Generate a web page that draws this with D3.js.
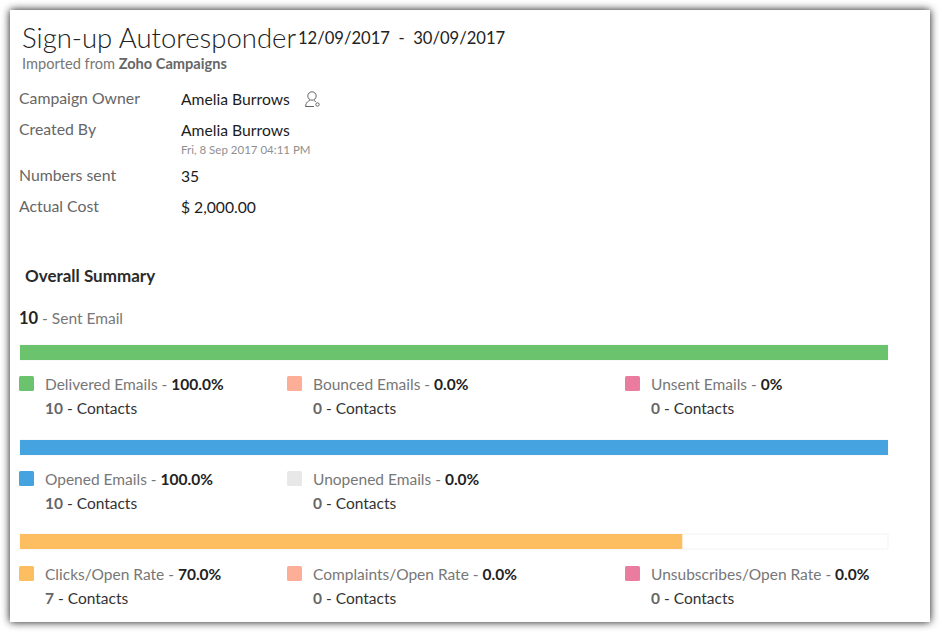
<!DOCTYPE html>
<html>
<head>
<meta charset="utf-8">
<script src="https://cdn.jsdelivr.net/npm/d3@7"></script>
<style>
    html, body { margin: 0; padding: 0; background: #fff; }
    svg { display: block; }
    text { font-family: Lato, "Open Sans", sans-serif; white-space: pre; }
</style>
</head>
<body>
<div id="visualization"></div>
<script>
// header details
const infoLabels = ["Campaign Owner", "Created By", "Numbers sent", "Actual Cost"];
const infoValues = ["Amelia Burrows", "Amelia Burrows", "35", "$ 2,000.00"];

// one row per bar
const legendNames = [
    ["Delivered Emails", "Bounced Emails", "Unsent Emails"],
    ["Opened Emails", "Unopened Emails"],
    ["Clicks/Open Rate", "Complaints/Open Rate", "Unsubscribes/Open Rate"]
];
const legendPercents = [
    ["100.0%", "0.0%", "0%"],
    ["100.0%", "0.0%"],
    ["70.0%", "0.0%", "0.0%"]
];
const legendContacts = [
    [10, 0, 0],
    [10, 0],
    [7, 0, 0]
];
const legendColors = [
    ["#6bc46d", "#fdae97", "#e97c9f"],
    ["#45a4df", "#e8e8e8"],
    ["#fdbe62", "#fdae97", "#e97c9f"]
];
// filled share of each bar as drawn, in percent of the track
const barFill = [100, 100, 76.3];

const width = 940;
const height = 632;

const svg = d3.select("#visualization").append("svg")
    .attr("width", width)
    .attr("height", height)
    .attr("viewBox", `0 0 ${width} ${height}`);

const shadow = svg.append("defs").append("filter")
    .attr("id", "shadow")
    .attr("x", "-3%").attr("y", "-3%")
    .attr("width", "106%").attr("height", "106%");
shadow.append("feDropShadow")
    .attr("dx", 0).attr("dy", 0)
    .attr("stdDeviation", 4)
    .attr("flood-color", "#000")
    .attr("flood-opacity", 0.95);

svg.append("rect")
    .attr("x", 10).attr("y", 10)
    .attr("width", 920).attr("height", 612)
    .attr("fill", "#fff")
    .attr("filter", "url(#shadow)");

function label(x, y, str, size, color, weight) {
    return svg.append("text")
        .attr("x", x).attr("y", y)
        .attr("font-size", size)
        .attr("fill", color)
        .attr("font-weight", weight || 400)
        .text(str);
}

// title block
label(22, 48, "Sign-up Autoresponder", 27.5, "#222", 300);
label(298, 44, "12/09/2017  -  30/09/2017", 16.6, "#222");
const sub = label(22, 69, "Imported from ", 14.6, "#777");
sub.append("tspan").attr("font-weight", 700).attr("fill", "#666").text("Zoho Campaigns");

// info rows
const infoRows = [103.5, 134.5, 180.5, 211.5];
infoLabels.forEach((d, i) => {
    label(19, infoRows[i], d, 15.8, "#666");
    label(181, infoRows[i] + 1, infoValues[i], 15.7, "#1c1c1c");
});
label(181, 154, "Fri, 8 Sep 2017 04:11 PM", 11.5, "#8f8f8f");

// owner icon
const icon = svg.append("g")
    .attr("transform", "translate(305,91)")
    .attr("fill", "none")
    .attr("stroke", "#555")
    .attr("stroke-width", 0.9);
icon.append("circle").attr("cx", 7).attr("cy", 5).attr("r", 4.2);
icon.append("path").attr("d", "M0.5 15.5 C1 11 3.5 10 5 9.5 M9 9.5 C10 10 10.5 10.5 11 11 M0.5 15.5 H9");
icon.append("circle").attr("cx", 12.5).attr("cy", 13.5).attr("r", 1.7);

// summary heading
label(25, 282, "Overall Summary", 17, "#2b2b2b", 700);
const sent = label(19, 324, "10", 16.5, "#222", 700);
sent.append("tspan").attr("font-size", 15.5).attr("font-weight", 400).attr("fill", "#777").text(" - Sent Email");

// bars
const x = d3.scaleLinear().domain([0, 100]).range([20, 888]);
const barTops = [345, 440, 534];
const legendTops = [376, 471, 566];
const barHeight = 15;
const columns = [19, 287, 625];

barFill.forEach((v, i) => {
    const g = svg.append("g");

    g.append("rect")
        .attr("x", x(0)).attr("y", barTops[i])
        .attr("width", x(100) - x(0)).attr("height", barHeight)
        .attr("fill", "#fff").attr("stroke", "#f3f3f3");

    g.append("rect")
        .attr("x", x(0)).attr("y", barTops[i])
        .attr("width", x(v) - x(0)).attr("height", barHeight)
        .attr("fill", legendColors[i][0]);

    // legend under the bar
    legendNames[i].forEach((name, j) => {
        const top = legendTops[i];
        g.append("rect")
            .attr("x", columns[j]).attr("y", top)
            .attr("width", 15).attr("height", 15)
            .attr("rx", 1.5)
            .attr("fill", legendColors[i][j]);

        const line1 = g.append("text")
            .attr("x", columns[j] + 26).attr("y", top + 14)
            .attr("font-size", 15.5).attr("fill", "#777")
            .text(name + " - ");
        line1.append("tspan").attr("font-weight", 700).attr("fill", "#222").text(legendPercents[i][j]);

        const line2 = g.append("text")
            .attr("x", columns[j] + 26).attr("y", top + 38)
            .attr("font-size", 15.5).attr("fill", "#333");
        line2.append("tspan").attr("font-weight", 700).attr("fill", "#666").text(legendContacts[i][j]);
        line2.append("tspan").text(" - Contacts");
    });
});
</script>
</body>
</html>
